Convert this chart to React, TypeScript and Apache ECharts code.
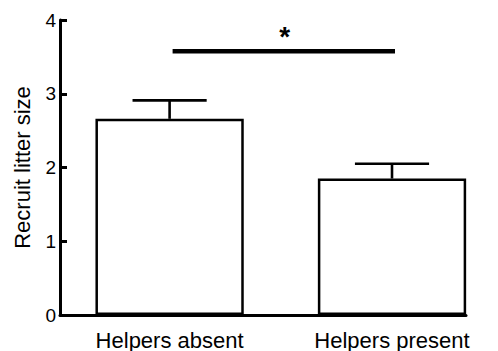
import { useEffect, useRef } from "react";
import * as echarts from "echarts";

// Recruit litter size by helper presence (mean with upper SE bar)
const categories = ["Helpers absent", "Helpers present"];
const meanLitterSize = [2.66, 1.85];
const upperError = [2.91, 2.05];
const yTickValues = [0, 1, 2, 3, 4];

// Significance bracket between the two groups
const sigGroups = [0, 1];
const sigLevel = [3.575];
const sigLabel = ["*"];

const FONT = '"Liberation Sans", Arial, Helvetica, sans-serif';
const INK = "#000";
const BAR_WIDTH = 148.3;

export default function App() {
  const ref = useRef<HTMLDivElement>(null);

  useEffect(() => {
    if (!ref.current) return;
    const chart = echarts.init(ref.current, null, { renderer: "svg" });

    const option: echarts.EChartsOption = {
      animation: false,
      backgroundColor: "#fff",
      grid: { left: 60, right: 32, top: 20, bottom: 36, containLabel: false },
      xAxis: {
        type: "value",
        min: -0.4928,
        max: 1.3327,
        axisLine: { show: true, onZero: false, lineStyle: { color: INK, width: 3 } },
        axisTick: { show: false },
        splitLine: { show: false },
        axisLabel: {
          customValues: categories.map((_, i) => i),
          formatter: (v: number) => categories[Math.round(v)] ?? "",
          color: INK,
          fontFamily: FONT,
          fontSize: 22,
          margin: 14,
        },
      },
      yAxis: {
        type: "value",
        min: yTickValues[0],
        max: yTickValues[yTickValues.length - 1],
        interval: 1,
        name: "Recruit litter size",
        nameLocation: "middle",
        nameGap: 27,
        nameTextStyle: { color: INK, fontFamily: FONT, fontSize: 22 },
        axisLine: { show: true, onZero: false, lineStyle: { color: INK, width: 3 } },
        axisTick: { show: true, inside: true, length: 7, lineStyle: { color: INK, width: 3 } },
        splitLine: { show: false },
        axisLabel: { color: INK, fontFamily: FONT, fontSize: 19, margin: 4 },
      },
      series: [
        {
          type: "bar",
          barWidth: BAR_WIDTH,
          data: meanLitterSize.map((v, i) => [i, v]),
          itemStyle: { color: "#fff", borderColor: INK, borderWidth: 2.5 },
          z: 2,
        },
        {
          type: "custom",
          z: 3,
          data: meanLitterSize.map((v, i) => [i, v, upperError[i]]),
          renderItem: (_params: any, api: any) => {
            const x = api.value(0);
            const base = api.coord([x, api.value(1)]);
            const top = api.coord([x, api.value(2)]);
            const half = BAR_WIDTH / 4;
            const style = { stroke: INK, lineWidth: 2.6 };
            return {
              type: "group",
              children: [
                { type: "line", shape: { x1: base[0], y1: base[1], x2: top[0], y2: top[1] }, style },
                { type: "line", shape: { x1: top[0] - half, y1: top[1], x2: top[0] + half, y2: top[1] }, style },
              ],
            };
          },
        },
        {
          type: "custom",
          z: 3,
          data: [[sigGroups[0], sigGroups[1], sigLevel[0]]],
          renderItem: (_params: any, api: any) => {
            const a = api.coord([api.value(0), api.value(2)]);
            const b = api.coord([api.value(1), api.value(2)]);
            const shift = 3;
            return {
              type: "group",
              children: [
                {
                  type: "line",
                  shape: { x1: a[0] + shift, y1: a[1], x2: b[0] + shift, y2: b[1] },
                  style: { stroke: INK, lineWidth: 4.5 },
                },
                {
                  type: "text",
                  x: (a[0] + b[0]) / 2 + shift + 1,
                  y: a[1] - 14.5,
                  style: {
                    text: sigLabel[0],
                    fill: INK,
                    font: `bold 28px ${FONT}`,
                    align: "center",
                    verticalAlign: "middle",
                  },
                },
              ],
            };
          },
        },
      ],
    };

    chart.setOption(option);
    return () => chart.dispose();
  }, []);

  return (
    <div
      ref={ref}
      style={{ position: "fixed", left: 0, top: 0, width: 498, height: 351, background: "#fff" }}
    />
  );
}
